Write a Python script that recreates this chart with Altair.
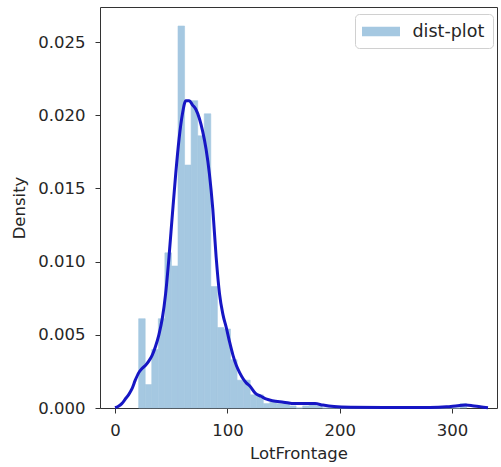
import altair as alt
import pandas as pd
import numpy as np

# Histogram (density) of LotFrontage, 50 equal bins between the data min and max
bin_min = 21.0
bin_max = 313.0
bin_density = [
    0.0061, 0.0016, 0.0040, 0.0061, 0.0106, 0.0097, 0.0261, 0.0166, 0.0210, 0.0186,
    0.0201, 0.0083, 0.0055, 0.0054, 0.0033, 0.0019, 0.0019, 0.0009, 0.0009, 0.0003,
    0.0004, 0.0003, 0.0004, 0.00014, 0.0, 0.00014, 0.0003, 0.00014, 0.0, 0.0,
    0.0, 0.0, 0.0, 0.0, 0.0, 0.0, 0.0, 0.0, 0.0, 0.0,
    0.0, 0.0, 0.0, 0.0, 0.0, 0.0, 0.0, 0.0, 0.0, 0.0003,
]

# KDE curve
kde_x = [0, 3, 6, 9, 12, 15, 18, 21, 24, 27, 30, 33, 36, 39, 42, 45, 48, 51, 54, 57,
         60, 63, 66, 69, 72, 75, 78, 81, 84, 87, 90, 93, 96, 99, 102, 105, 108, 111, 114,
         117, 120, 125, 130, 135, 140, 150, 160, 170, 178, 185, 195, 210, 240, 280, 295,
         305, 312, 318, 325, 332]
kde_y = [0.00002, 0.00012, 0.0003, 0.0006, 0.0009, 0.0013, 0.0019, 0.0024, 0.0027, 0.0029,
         0.0032, 0.0036, 0.0042, 0.0050, 0.0061, 0.0078, 0.0103, 0.0132, 0.0160, 0.0184,
         0.0201, 0.0210, 0.0210, 0.0207, 0.0204, 0.0198, 0.0189, 0.0177, 0.0160, 0.0136,
         0.0103, 0.0078, 0.0064, 0.0055, 0.0045, 0.0036, 0.0029, 0.0024, 0.0020,
         0.0017, 0.0015, 0.0010, 0.0008, 0.0006, 0.0005, 0.0004, 0.0003, 0.0003, 0.0003,
         0.0002, 0.0001, 0.00005, 0.00003, 0.00004, 0.00008,
         0.00016, 0.0002, 0.00016, 0.00008, 0.00002]

x_ticks = [0, 100, 200, 300]
y_ticks = [0.0, 0.005, 0.010, 0.015, 0.020, 0.025]

edges = np.linspace(bin_min, bin_max, len(bin_density) + 1)
hist = pd.DataFrame({
    "x0": edges[:-1],
    "x1": edges[1:],
    "density": bin_density,
    "series": ["dist-plot"] * len(bin_density),
})
kde = pd.DataFrame({"x": kde_x, "y": kde_y})

FONT = "DejaVu Sans"
TXT = "#262626"
FS = 16.5
BAR = "#a5c8e1"

xscale = alt.Scale(domain=[-13.4, 340], nice=False, zero=False)
yscale = alt.Scale(domain=[0, 0.0274], nice=False)

axis_style = dict(
    grid=False, domain=False, tickSize=5, tickColor="#333333",
    labelFont=FONT, labelFontSize=FS, labelColor=TXT,
    titleFont=FONT, titleFontSize=FS, titleColor=TXT, titleFontWeight="normal",
)
xaxis = alt.Axis(values=x_ticks, format="d", labelPadding=9,
                 title="LotFrontage", titlePadding=7, **axis_style)
yaxis = alt.Axis(values=y_ticks, format=".3f", labelPadding=10,
                 title="Density", titlePadding=10, **axis_style)

cscale = alt.Scale(domain=["dist-plot"], range=[BAR])

bars = alt.Chart(hist).mark_rect(strokeWidth=0.6).encode(
    x=alt.X("x0:Q", scale=xscale, axis=xaxis),
    x2="x1:Q",
    y=alt.Y("density:Q", scale=yscale, axis=yaxis),
    y2=alt.datum(0),
    color=alt.Color(
        "series:N",
        scale=cscale,
        legend=alt.Legend(
            title=None, orient="none", legendX=255, legendY=7,
            padding=8, cornerRadius=4, strokeColor="#d0d0d0", fillColor="white",
            symbolType="M-2,-0.5H2V0.5H-2Z", symbolSize=361, symbolOffset=8.5,
            symbolStrokeWidth=0, symbolOpacity=1,
            labelFont=FONT, labelFontSize=17.5, labelColor=TXT, labelOffset=22,
        ),
    ),
    stroke=alt.Color("series:N", scale=cscale, legend=None),
)

line = alt.Chart(kde).mark_line(color="#1616c4", strokeWidth=3, interpolate="monotone").encode(
    x=alt.X("x:Q", scale=xscale),
    y=alt.Y("y:Q", scale=yscale),
)

chart = alt.layer(bars, line).properties(
    width=397,
    height=401,
    padding={"left": 100, "top": 7, "right": 4, "bottom": 59},
    autosize=alt.AutoSizeParams(type="none"),
    background="white",
).configure_view(
    stroke="#333333", strokeWidth=1
)

chart.save("out.html", embed_options={"renderer": "svg", "actions": False})
